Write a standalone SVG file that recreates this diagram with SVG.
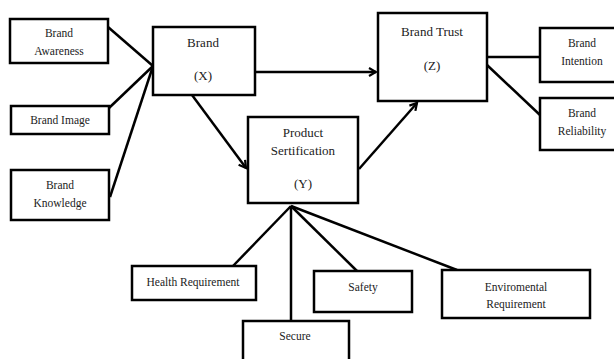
<svg xmlns="http://www.w3.org/2000/svg" width="614" height="359" viewBox="0 0 614 359">
<style>
.box{fill:#fff;stroke:#000;stroke-width:2.5}
.ln{stroke:#000;stroke-width:2.5;fill:none}
text{font-family:"Liberation Serif","Times New Roman",serif;fill:#222;text-anchor:middle}
.s{font-size:11.5px}
.m{font-size:13px}
</style>
<defs>
<marker id="ah" markerWidth="10" markerHeight="10" refX="8" refY="5" orient="auto" markerUnits="userSpaceOnUse">
<path d="M1,1 L8,5 L1,9" fill="none" stroke="#000" stroke-width="2.2"/>
</marker>
</defs>
<g id="connectors">
<line class="ln" x1="108" y1="27" x2="153" y2="66"/>
<line class="ln" x1="109" y1="108" x2="153" y2="66"/>
<line class="ln" x1="110" y1="197" x2="153" y2="66"/>
<line class="ln" x1="192" y1="95" x2="246" y2="168" marker-end="url(#ah)"/>
<line class="ln" x1="255" y1="72" x2="376" y2="72" marker-end="url(#ah)"/>
<line class="ln" x1="359" y1="169" x2="417" y2="103" marker-end="url(#ah)"/>
<line class="ln" x1="487" y1="57" x2="540" y2="57"/>
<line class="ln" x1="487" y1="65" x2="540" y2="115"/>
<line class="ln" x1="291" y1="206" x2="233" y2="266"/>
<line class="ln" x1="291" y1="206" x2="291" y2="321"/>
<line class="ln" x1="291" y1="206" x2="357" y2="271"/>
<line class="ln" x1="291" y1="206" x2="457" y2="270"/>
</g>
<g id="brand-awareness">
<rect class="box" x="10" y="19" width="98" height="44"/>
<text class="s" x="59" y="37">Brand</text>
<text class="s" x="59" y="55">Awareness</text>
</g>
<g id="brand-image">
<rect class="box" x="11" y="106" width="98" height="28"/>
<text class="s" x="60" y="124">Brand Image</text>
</g>
<g id="brand-knowledge">
<rect class="box" x="11" y="170" width="98" height="50"/>
<text class="s" x="60" y="189">Brand</text>
<text class="s" x="60" y="207">Knowledge</text>
</g>
<g id="brand-x">
<rect class="box" x="153" y="27" width="102" height="68"/>
<text class="m" x="203" y="47">Brand</text>
<text class="m" x="203" y="80">(X)</text>
</g>
<g id="product-y">
<rect class="box" x="248" y="117" width="110" height="86"/>
<text class="m" x="303" y="137">Product</text>
<text class="m" x="303" y="155">Sertification</text>
<text class="m" x="303" y="188">(Y)</text>
</g>
<g id="brand-trust-z">
<rect class="box" x="378" y="13" width="109" height="88"/>
<text class="m" x="432" y="36">Brand Trust</text>
<text class="m" x="432" y="70">(Z)</text>
</g>
<g id="brand-intention">
<rect class="box" x="540" y="28" width="80" height="54"/>
<text class="s" x="582" y="47">Brand</text>
<text class="s" x="582" y="65">Intention</text>
</g>
<g id="brand-reliability">
<rect class="box" x="540" y="98" width="80" height="52"/>
<text class="s" x="582" y="117">Brand</text>
<text class="s" x="582" y="135">Reliability</text>
</g>
<g id="health-requirement">
<rect class="box" x="132" y="266" width="124" height="34"/>
<text class="s" x="193" y="286">Health Requirement</text>
</g>
<g id="secure">
<rect class="box" x="243" y="321" width="106" height="50"/>
<text class="s" x="295" y="340">Secure</text>
</g>
<g id="safety">
<rect class="box" x="314" y="271" width="98" height="41"/>
<text class="s" x="363" y="291">Safety</text>
</g>
<g id="enviromental-requirement">
<rect class="box" x="442" y="270" width="148" height="48"/>
<text class="s" x="516" y="291">Enviromental</text>
<text class="s" x="516" y="308">Requirement</text>
</g>
</svg>
